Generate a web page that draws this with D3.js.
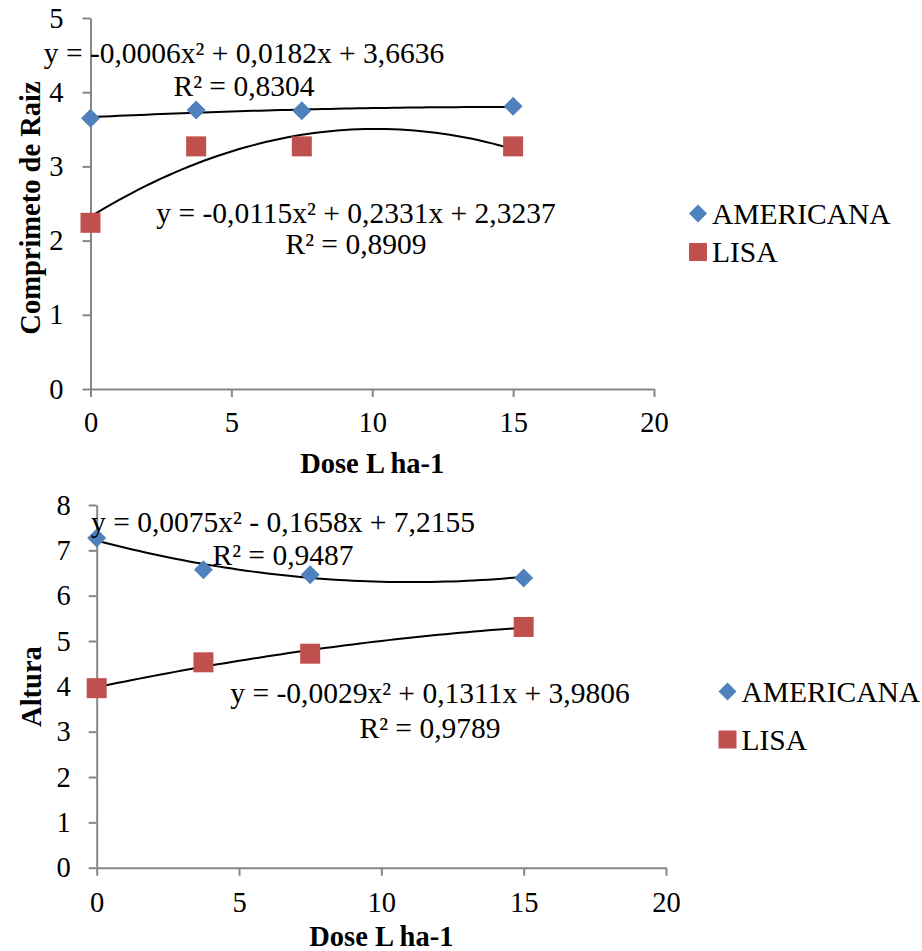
<!DOCTYPE html>
<html>
<head>
<meta charset="utf-8">
<script src="https://cdn.jsdelivr.net/npm/d3@7"></script>
<style>
  body { margin: 0; background: #fff; }
  svg text { font-family: "Liberation Serif", "Times New Roman", serif; fill: #000; }
  .axis path, .axis line { stroke: #868686; stroke-width: 2; }
  .axisLbl { font-size: 28.5px; font-weight: bold; }
  .eqLbl { font-size: 29.5px; }
  .legLbl { font-size: 29.5px; }
</style>
</head>
<body>
<div id="chart"></div>
<script>
// doses (L ha-1)
const doses = [0, 3.75, 7.5, 15];
const xTicks = [0, 5, 10, 15, 20];

// Comprimeto de Raiz
const raizAmericana = [3.65, 3.76, 3.75, 3.81];
const raizLisa = [2.24, 3.27, 3.27, 3.27];
const raizTicks = [0, 1, 2, 3, 4, 5];
const raizCoefAmericana = [-0.0006, 0.0182, 3.6636];
const raizCoefLisa = [-0.0115, 0.2331, 2.3237];
const raizEqAmericana = ["y = -0,0006x² + 0,0182x + 3,6636", "R² = 0,8304"];
const raizEqLisa = ["y = -0,0115x² + 0,2331x + 2,3237", "R² = 0,8909"];

// Altura
const alturaAmericana = [7.27, 6.57, 6.46, 6.39];
const alturaLisa = [3.96, 4.53, 4.72, 5.31];
const alturaTicks = [0, 1, 2, 3, 4, 5, 6, 7, 8];
const alturaCoefAmericana = [0.0075, -0.1658, 7.2155];
const alturaCoefLisa = [-0.0029, 0.1311, 3.9806];
const alturaEqAmericana = ["y = 0,0075x² - 0,1658x + 7,2155", "R² = 0,9487"];
const alturaEqLisa = ["y = -0,0029x² + 0,1311x + 3,9806", "R² = 0,9789"];

const seriesNames = ["AMERICANA", "LISA"];
const colors = { "AMERICANA": "#4F81BD", "LISA": "#C0504D" };

let svg = d3.select("#chart").append("svg")
  .attr("width", 922)
  .attr("height", 951);

function diamondPath(r) {
  return "M0," + (-r) + "L" + r + ",0L0," + r + "L" + (-r) + ",0Z";
}

function drawPanel(p) {
  let xScale = d3.scaleLinear().domain([0, 20]).range([p.left, p.right]);
  let yScale = d3.scaleLinear().domain([0, d3.max(p.yTicks)]).range([p.bottom, p.top]);

  // x axis
  svg.append("g")
    .attr("class", "axis")
    .attr("transform", "translate(0," + p.bottom + ")")
    .call(d3.axisBottom(xScale).tickValues(xTicks).tickFormat(d3.format("d")).tickSize(8).tickSizeOuter(0))
    .attr("font-family", "Liberation Serif")
    .attr("font-size", 28.5)
    .selectAll("text")
      .attr("y", p.xLblOffset)
      .attr("dy", null);

  // y axis
  svg.append("g")
    .attr("class", "axis")
    .attr("transform", "translate(" + p.left + ",0)")
    .call(d3.axisLeft(yScale).tickValues(p.yTicks).tickFormat(d3.format("d")).tickSize(8).tickSizeOuter(0).tickPadding(p.yPad))
    .attr("font-family", "Liberation Serif")
    .attr("font-size", 28.5);

  // trendlines
  let xs = d3.range(0, 15.001, 0.25);
  let line = d3.line().x(d => xScale(d[0])).y(d => yScale(d[1]));
  [p.coefA, p.coefB].forEach(c => {
    svg.append("path")
      .datum(xs.map(x => [x, c[0] * x * x + c[1] * x + c[2]]))
      .attr("d", line)
      .attr("fill", "none")
      .attr("stroke", "#000")
      .attr("stroke-width", 2);
  });

  // markers
  svg.append("g").selectAll("path")
    .data(doses.map((d, i) => [d, p.valsA[i]]))
    .enter()
    .append("path")
      .attr("transform", d => "translate(" + xScale(d[0]) + "," + yScale(d[1]) + ")")
      .attr("d", diamondPath(9.5))
      .attr("fill", colors["AMERICANA"]);

  svg.append("g").selectAll("rect")
    .data(doses.map((d, i) => [d, p.valsB[i]]))
    .enter()
    .append("rect")
      .attr("x", d => xScale(d[0]) - 10)
      .attr("y", d => yScale(d[1]) - 10)
      .attr("width", 20)
      .attr("height", 20)
      .attr("fill", colors["LISA"]);

  // equation labels
  p.eqs.forEach(e => {
    e.lines.forEach((t, i) => {
      svg.append("text")
        .attr("class", "eqLbl")
        .attr("x", e.x)
        .attr("y", e.y + i * e.gap)
        .attr("text-anchor", "middle")
        .text(t);
    });
  });

  // axis titles
  svg.append("text")
    .attr("class", "axisLbl")
    .attr("x", xScale(10))
    .attr("y", p.xTitleY)
    .attr("text-anchor", "middle")
    .text("Dose L ha-1");

  svg.append("text")
    .attr("class", "axisLbl")
    .attr("transform", "translate(" + p.yTitleX + "," + p.yTitleY + ") rotate(-90)")
    .attr("text-anchor", "middle")
    .text(p.yTitle);

  // legend
  let leg = svg.append("g").attr("transform", "translate(" + p.legX + "," + p.legY + ")");
  leg.append("path")
    .attr("d", diamondPath(9))
    .attr("fill", colors["AMERICANA"]);
  leg.append("rect")
    .attr("x", -9).attr("y", p.legGap - 9)
    .attr("width", 18).attr("height", 18)
    .attr("fill", colors["LISA"]);
  seriesNames.forEach((n, i) => {
    leg.append("text")
      .attr("class", "legLbl")
      .attr("x", 14)
      .attr("y", i * p.legGap + 10)
      .text(n);
  });
}

drawPanel({
  left: 90.5, right: 654, top: 18, bottom: 389,
  yTicks: raizTicks, yPad: 19, xLblOffset: 43,
  valsA: raizAmericana, valsB: raizLisa,
  coefA: raizCoefAmericana, coefB: raizCoefLisa,
  eqs: [
    { lines: raizEqAmericana, x: 244, y: 63, gap: 33 },
    { lines: raizEqLisa, x: 356, y: 223, gap: 31 }
  ],
  xTitleY: 473, yTitle: "Comprimeto de Raiz", yTitleX: 40, yTitleY: 208,
  legX: 698, legY: 213.5, legGap: 38.5
});

drawPanel({
  left: 96.7, right: 666, top: 505, bottom: 867.7,
  yTicks: alturaTicks, yPad: 18, xLblOffset: 44,
  valsA: alturaAmericana, valsB: alturaLisa,
  coefA: alturaCoefAmericana, coefB: alturaCoefLisa,
  eqs: [
    { lines: alturaEqAmericana, x: 283, y: 532, gap: 33 },
    { lines: alturaEqLisa, x: 430, y: 703, gap: 35 }
  ],
  xTitleY: 946, yTitle: "Altura", yTitleX: 41, yTitleY: 686.5,
  legX: 727.5, legY: 691.5, legGap: 48
});
</script>
</body>
</html>
